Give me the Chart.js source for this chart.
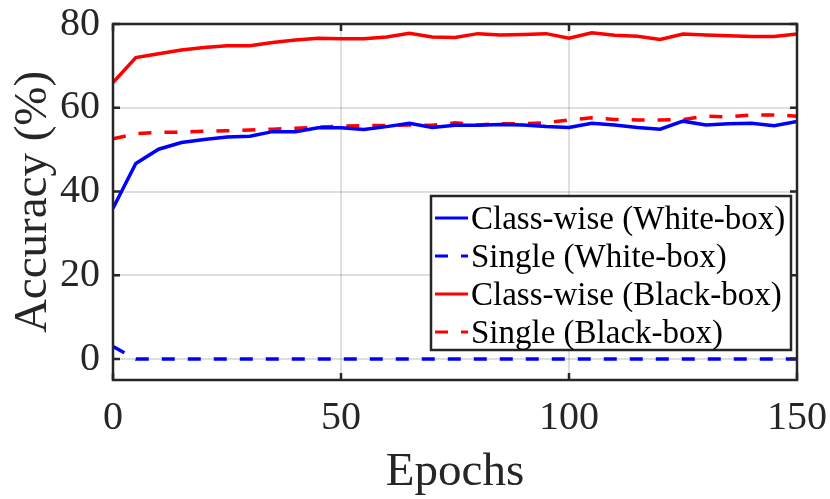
<!DOCTYPE html>
<html>
<head>
<meta charset="utf-8">
<script src="https://cdn.jsdelivr.net/npm/chart.js@4.4.1/dist/chart.umd.min.js"></script>
<style>
html, body { margin: 0; padding: 0; background: #fff; }
</style>
</head>
<body>
<canvas id="accuracy-chart" width="830" height="499"></canvas>
<script>
const epochs = [0, 5, 10, 15, 20, 25, 30, 35, 40, 45, 50, 55, 60, 65, 70, 75, 80, 85, 90, 95, 100, 105, 110, 115, 120, 125, 130, 135, 140, 145, 150];

const classWiseWhite = [36.0, 46.7, 50.1, 51.7, 52.4, 53.0, 53.2, 54.3, 54.3, 55.2, 55.2, 54.8, 55.5, 56.3, 55.3, 55.8, 55.8, 56.0, 55.9, 55.5, 55.3, 56.3, 55.9, 55.3, 54.9, 56.8, 55.9, 56.2, 56.3, 55.7, 56.7];
const singleWhite = [3.0, 0, 0, 0, 0, 0, 0, 0, 0, 0, 0, 0, 0, 0, 0, 0, 0, 0, 0, 0, 0, 0, 0, 0, 0, 0, 0, 0, 0, 0, 0];
const classWiseBlack = [66.0, 72.0, 72.9, 73.8, 74.4, 74.8, 74.8, 75.6, 76.2, 76.6, 76.5, 76.5, 76.9, 77.8, 76.9, 76.8, 77.7, 77.4, 77.5, 77.7, 76.6, 77.9, 77.3, 77.1, 76.3, 77.6, 77.4, 77.2, 77.0, 77.0, 77.6];
const singleBlack = [52.6, 53.8, 54.1, 54.2, 54.4, 54.5, 54.7, 54.9, 55.1, 55.4, 55.6, 55.7, 55.8, 55.9, 55.8, 56.4, 55.9, 56.2, 56.2, 56.4, 57.1, 57.6, 57.2, 57.1, 57.1, 57.2, 58.0, 57.8, 58.3, 58.3, 58.0];

const seriesLabels = ["Class-wise (White-box)", "Single (White-box)", "Class-wise (Black-box)", "Single (Black-box)"];
const xTicks = [0, 50, 100, 150];
const yTicks = [0, 20, 40, 60, 80];

const serif = "'Liberation Serif', 'Times New Roman', serif";
const axisColor = "#262626";
const dash = [13, 13];

function toPoints(values) {
	return epochs.map((epoch, i) => ({ x: epoch, y: values[i] }));
}

function lineSet(label, values, color, dashed) {
	return {
		label: label,
		data: toPoints(values),
		borderColor: color,
		backgroundColor: color,
		borderWidth: 3.5,
		borderDash: dashed ? dash : [],
		pointRadius: 0,
		tension: 0,
		fill: false,
	};
}

// box round the plot with inward ticks, like the matlab axes
const frameBox = {
	id: "frameBox",
	afterDatasetsDraw(chart) {
		const { ctx, chartArea: a, scales } = chart;
		ctx.save();
		ctx.strokeStyle = axisColor;
		ctx.lineWidth = 2.5;
		ctx.beginPath();
		xTicks.forEach((v) => {
			const px = scales.x.getPixelForValue(v);
			ctx.moveTo(px, a.bottom);
			ctx.lineTo(px, a.bottom - 7);
			ctx.moveTo(px, a.top);
			ctx.lineTo(px, a.top + 7);
		});
		yTicks.forEach((v) => {
			const py = scales.y.getPixelForValue(v);
			ctx.moveTo(a.left, py);
			ctx.lineTo(a.left + 7, py);
			ctx.moveTo(a.right, py);
			ctx.lineTo(a.right - 7, py);
		});
		ctx.stroke();
		ctx.strokeRect(a.left, a.top, a.right - a.left, a.bottom - a.top);
		ctx.restore();
	},
};

const insideLegend = {
	id: "insideLegend",
	afterDraw(chart) {
		const { ctx, chartArea: a } = chart;
		const right = a.right - 6;
		const bottom = a.bottom - 30;
		const width = 360;
		const height = 154;
		const left = right - width;
		const top = bottom - height;
		const rowGap = 38;

		ctx.save();
		ctx.fillStyle = "#fff";
		ctx.fillRect(left, top, width, height);
		ctx.strokeStyle = axisColor;
		ctx.lineWidth = 2.5;
		ctx.strokeRect(left, top, width, height);

		ctx.font = "33px " + serif;
		ctx.textBaseline = "middle";
		ctx.textAlign = "left";
		chart.data.datasets.forEach((ds, i) => {
			const rowY = top + 22 + i * rowGap;
			ctx.strokeStyle = ds.borderColor;
			ctx.lineWidth = 3;
			ctx.setLineDash(ds.borderDash);
			ctx.beginPath();
			ctx.moveTo(left + 4, rowY);
			ctx.lineTo(left + 37, rowY);
			ctx.stroke();
			ctx.setLineDash([]);
			ctx.fillStyle = "#000";
			ctx.fillText(ds.label, left + 40, rowY + 2);
		});
		ctx.restore();
	},
};

new Chart(document.getElementById("accuracy-chart"), {
	type: "line",
	data: {
		datasets: [
			lineSet(seriesLabels[0], classWiseWhite, "#0000ff", false),
			lineSet(seriesLabels[1], singleWhite, "#0000ff", true),
			lineSet(seriesLabels[2], classWiseBlack, "#ff0000", false),
			lineSet(seriesLabels[3], singleBlack, "#ff0000", true),
		],
	},
	options: {
		responsive: false,
		animation: false,
		layout: { padding: { top: 24, right: 33, left: 0, bottom: 0 } },
		plugins: {
			legend: { display: false },
			tooltip: { enabled: false },
		},
		scales: {
			x: {
				type: "linear",
				min: 0,
				max: 150,
				afterBuildTicks: (scale) => { scale.ticks = xTicks.map((v) => ({ value: v })); },
				afterFit: (scale) => {
					scale.height = 119;
					scale.paddingLeft = 0;
					scale.paddingRight = 0;
				},
				ticks: {
					color: axisColor,
					font: { family: serif, size: 40, lineHeight: 1.2 },
					padding: 14,
					maxRotation: 0,
				},
				grid: { color: "rgba(38,38,38,0.15)", lineWidth: 2, drawTicks: false },
				border: { display: false },
				title: {
					display: true,
					text: "Epochs",
					color: axisColor,
					font: { family: serif, size: 47, lineHeight: 1 },
					padding: { top: 0, bottom: 3 },
				},
			},
			y: {
				type: "linear",
				min: -5,
				max: 80,
				afterBuildTicks: (scale) => { scale.ticks = yTicks.map((v) => ({ value: v })); },
				afterFit: (scale) => {
					scale.width = 113;
					scale.paddingTop = 0;
					scale.paddingBottom = 0;
				},
				ticks: {
					color: axisColor,
					font: { family: serif, size: 40, lineHeight: 1.2 },
					padding: 13,
				},
				grid: { color: "rgba(38,38,38,0.15)", lineWidth: 2, drawTicks: false },
				border: { display: false },
				title: {
					display: true,
					text: "Accuracy (%)",
					color: axisColor,
					font: { family: serif, size: 47, lineHeight: 1 },
					padding: { top: 10, bottom: 0 },
				},
			},
		},
	},
	plugins: [frameBox, insideLegend],
});
</script>
</body>
</html>
